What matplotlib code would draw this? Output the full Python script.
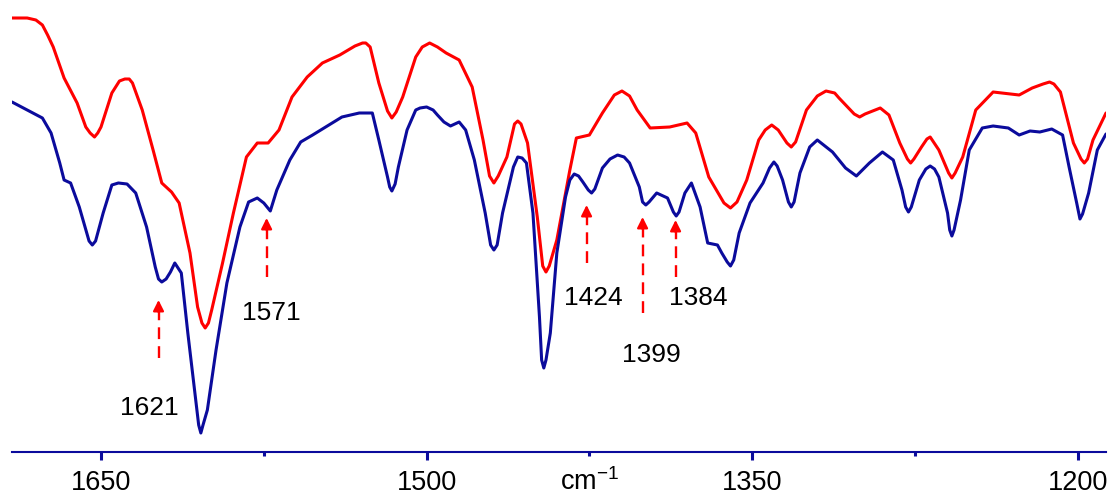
import numpy as np
import matplotlib
matplotlib.use("Agg")
import matplotlib.pyplot as plt

plt.rcParams['font.family'] = ['Liberation Sans', 'DejaVu Sans']
plt.rcParams['mathtext.fontset'] = 'custom'
plt.rcParams['mathtext.rm'] = 'Liberation Sans'
plt.rcParams['mathtext.it'] = 'Liberation Sans:italic'

RED = '#ff0000'
BLUE = '#0b0b9c'

# --- spectra (wavenumber / cm-1, transmittance a.u.) ---
red_wn = [1691, 1684, 1680, 1677, 1674.6, 1672, 1667, 1661, 1657, 1655, 1653, 1651.5,
          1650, 1645, 1641.5, 1639, 1637, 1635.5, 1631, 1626, 1622, 1617.5, 1614, 1609,
          1605.5, 1603.5, 1602, 1600.5, 1599, 1594, 1589, 1583, 1578, 1573, 1568, 1562,
          1555, 1548, 1540, 1533, 1529.5, 1528, 1526, 1522, 1518, 1516, 1514, 1511,
          1505, 1502, 1498.6, 1495, 1491, 1485, 1479, 1474, 1471, 1469, 1467, 1463,
          1459.5, 1458, 1456.5, 1453.5, 1449, 1446.5, 1445, 1443.5, 1440, 1434, 1431, 1425,
          1419, 1413.5, 1410, 1406.5, 1403, 1397, 1388, 1380, 1376, 1370, 1363, 1360,
          1357, 1352.5, 1347, 1344, 1341, 1338, 1334, 1332, 1330, 1325, 1320, 1316,
          1312, 1310, 1303, 1300.5, 1298, 1291, 1287, 1282, 1278.5, 1277, 1275.5, 1272,
          1269.5, 1268, 1264, 1259.5, 1258, 1256.5, 1253, 1247, 1239, 1227, 1221, 1216,
          1213, 1211, 1208, 1202, 1198.5, 1197, 1195.5, 1193, 1187]
red_t = [434, 434, 432, 427, 417, 405, 374, 349, 325, 319, 315, 319,
         325, 359, 371, 373, 373, 369, 342, 302, 269, 260, 249, 199,
         145, 129, 124, 129, 142, 189, 239, 295, 309, 309, 322, 355,
         375, 389, 397, 406, 409, 409, 405, 369, 341, 334, 340, 355,
         395, 405, 409, 405, 399, 392, 365, 312, 276, 269, 276, 295,
         328, 331, 328, 309, 235, 186, 180, 186, 212, 282, 314, 317,
         339, 357, 361, 356, 342, 324, 325, 329, 319, 275, 249, 244,
         250, 272, 312, 322, 327, 322, 309, 305, 310, 342, 356, 361,
         359, 354, 338, 335, 338, 344, 337, 309, 293, 289, 293, 305,
         313, 315, 302, 279, 274, 279, 295, 342, 360, 357, 364, 368,
         370, 368, 360, 309, 293, 289, 293, 312, 339]

blue_wn = [1691, 1684, 1677, 1673, 1669, 1667, 1664, 1660, 1655.5, 1654, 1652.5, 1649,
           1645, 1642, 1638, 1634, 1629, 1625, 1623.5, 1622, 1620, 1618, 1616, 1613,
           1610, 1606, 1605, 1604, 1603, 1601, 1597, 1592, 1586, 1582, 1578, 1575,
           1572, 1569, 1563, 1558, 1552.5, 1545, 1539, 1531, 1525, 1522, 1518, 1517,
           1516, 1514.5, 1513, 1509, 1505, 1503, 1500, 1497, 1495, 1492, 1489, 1485,
           1482, 1478, 1473, 1470.5, 1469, 1467.5, 1465, 1460, 1458, 1456, 1454, 1451,
           1448, 1447, 1446, 1445, 1443, 1440, 1436, 1434, 1432, 1430, 1428, 1425.5,
           1424, 1422.5, 1419, 1415.5, 1412, 1409, 1406.5, 1402, 1400.5, 1399, 1397.5, 1394,
           1389, 1386.3, 1385, 1383.7, 1381, 1378, 1374, 1370.5, 1366, 1364, 1361.5, 1360,
           1358.5, 1356, 1351, 1345, 1342, 1340, 1338.5, 1336, 1333.3, 1332, 1330.7, 1328,
           1323.5, 1320, 1313, 1307, 1302, 1296, 1290, 1285, 1281, 1279.3, 1278, 1276.7,
           1273, 1270, 1268, 1266, 1264, 1260, 1259, 1258, 1257, 1254, 1250, 1244,
           1239, 1232, 1227, 1222, 1217.5, 1212, 1207, 1204, 1200.5, 1199, 1197.8, 1195,
           1191, 1187]
blue_t = [350, 342, 334, 319, 289, 272, 269, 245, 211, 207, 211, 239,
          267, 269, 268, 259, 225, 185, 173, 170, 173, 180, 189, 179,
          119, 45, 27, 19, 27, 42, 102, 169, 225, 250, 254, 249,
          241, 262, 292, 310, 317, 327, 335, 339, 339, 312, 275, 265,
          261, 268, 285, 322, 342, 344, 345, 342, 337, 330, 326, 330,
          322, 292, 239, 207, 202, 207, 239, 285, 295, 294, 289, 239,
          135, 92, 84, 92, 119, 199, 255, 272, 278, 276, 270, 262,
          259, 263, 284, 293, 297, 295, 289, 265, 250, 247, 250, 259,
          254, 240, 236, 240, 259, 269, 245, 209, 207, 199, 190, 186,
          192, 219, 249, 269, 284, 290, 286, 272, 250, 245, 250, 279,
          305, 312, 300, 284, 276, 289, 300, 292, 262, 245, 240, 245,
          272, 283, 286, 283, 275, 239, 222, 216, 222, 252, 302, 324,
          326, 324, 317, 321, 320, 323, 317, 285, 249, 233, 238, 259,
          302, 318]

# marked bands: label, arrow x, arrow tail, arrow tip, label x, label y
band_labels = ['1621', '1571', '1424', '1399', '1384']
arrow_x = [1623.5, 1573.7, 1426.3, 1400.5, 1385.3]
arrow_tail = [94, 175, 189, 139, 175]
arrow_tip = [152, 234, 247, 235, 232]
label_x = [1627.6, 1571.4, 1423, 1396.3, 1374.7]
label_y = [44, 139, 154, 97, 154]

major_ticks = [1650, 1500, 1350, 1200]
minor_ticks = [1575, 1425, 1275]

fig = plt.figure(figsize=(11.16, 4.96), dpi=100)
ax = fig.add_axes([12 / 1116, 44 / 496, 1094 / 1116, 452 / 496])

ax.plot(red_wn, red_t, color=RED, lw=2.2, solid_joinstyle='round', solid_capstyle='round')
ax.plot(blue_wn, blue_t, color=BLUE, lw=2.2, solid_joinstyle='round', solid_capstyle='round')

for x, t0, t1 in zip(arrow_x, arrow_tail, arrow_tip):
    ax.plot([x, x], [t0, t1 - 8], color=RED, lw=1.7, ls=(0, (5, 3)))
    ax.annotate('', xy=(x, t1), xytext=(x, t1 - 12),
                arrowprops=dict(arrowstyle='-|>', color=RED, lw=1.6,
                                mutation_scale=16, shrinkA=0, shrinkB=0))

for lab, x, y in zip(band_labels, label_x, label_y):
    ax.text(x, y, lab, fontsize=19, ha='center', va='center', color='black')

ax.set_xlim(1691, 1187)
ax.set_ylim(0, 452)

for s in ['top', 'left', 'right']:
    ax.spines[s].set_visible(False)
ax.spines['bottom'].set_color(BLUE)
ax.spines['bottom'].set_linewidth(1.5)

ax.set_yticks([])
ax.set_xticks(major_ticks)
ax.set_xticks(minor_ticks, minor=True)
ax.set_xticklabels([str(t) for t in major_ticks])
ax.tick_params(axis='x', which='major', direction='out', length=5.8, width=2.2,
               color=BLUE, labelsize=19.5, pad=7)
ax.tick_params(axis='x', which='minor', direction='out', length=2.8, width=2.2,
               color=BLUE)

# axis unit sits under the middle minor tick, on the same baseline as the numbers
ax.text(1425, -0.084, 'cm$^{-1}$', transform=ax.get_xaxis_transform(),
        fontsize=19.5, ha='center', va='baseline', color='black')

fig.savefig('out.png', dpi=100)
